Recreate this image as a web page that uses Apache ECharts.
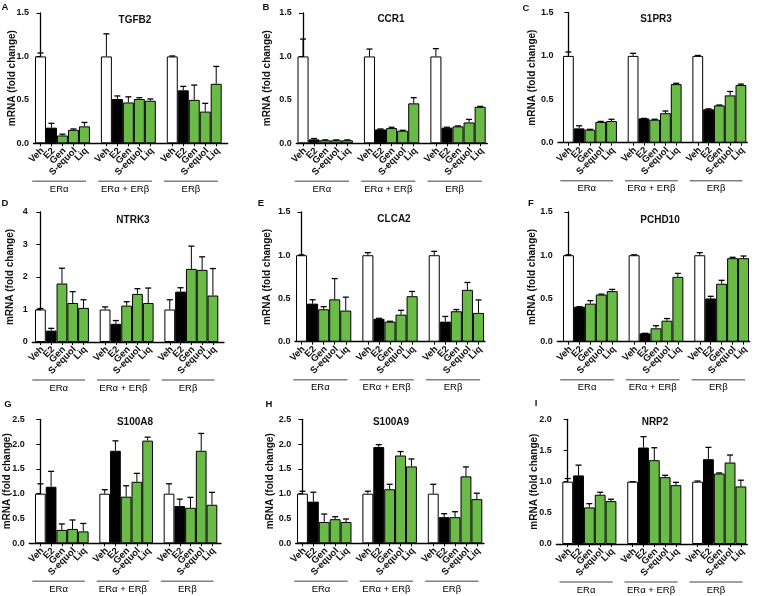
<!DOCTYPE html>
<html><head><meta charset="utf-8">
<script src="https://cdn.jsdelivr.net/npm/echarts@6/dist/echarts.min.js"></script>
<style>html,body{margin:0;padding:0;background:#fff}#c{width:762px;height:596px}</style>
</head><body><div id="c"></div>
<script>
// ---------------- data ----------------
const treatments = ['Veh', 'E2', 'Gen', 'S-equol', 'Liq'];
const groups = ['ERα', 'ERα + ERβ', 'ERβ'];
const genes = ['TGFB2', 'CCR1', 'S1PR3', 'NTRK3', 'CLCA2', 'PCHD10', 'S100A8', 'S100A9', 'NRP2'];
const panelLetters = ['A', 'B', 'C', 'D', 'E', 'F', 'G', 'H', 'I'];
const yAxisName = 'mRNA (fold change)';
const yMax = [1.5, 1.5, 1.5, 4, 1.5, 1.5, 2.5, 2.5, 2.0];
const yStep = [0.5, 0.5, 0.5, 1, 0.5, 0.5, 0.5, 0.5, 0.5];

// means, ordered: ERα (Veh,E2,Gen,S-equol,Liq), ERα+ERβ (...), ERβ (...)
const TGFB2_mean  = [1.00, 0.18, 0.09, 0.155, 0.195,  1.00, 0.51, 0.47, 0.51, 0.49,  1.00, 0.61, 0.50, 0.365, 0.685];
const TGFB2_err   = [0.04, 0.05, 0.015, 0.01, 0.045,  0.26, 0.035, 0.065, 0.015, 0.02,  0.005, 0.045, 0.17, 0.095, 0.20];
const CCR1_mean   = [1.00, 0.045, 0.035, 0.035, 0.035,  1.00, 0.16, 0.175, 0.145, 0.46,  1.00, 0.18, 0.195, 0.24, 0.42];
const CCR1_err    = [0.20, 0.01, 0.004, 0.004, 0.004,  0.085, 0.005, 0.01, 0.005, 0.065,  0.09, 0.005, 0.005, 0.035, 0.005];
const S1PR3_mean  = [1.00, 0.165, 0.15, 0.24, 0.25,  1.00, 0.28, 0.265, 0.34, 0.675,  1.00, 0.385, 0.43, 0.545, 0.665];
const S1PR3_err   = [0.045, 0.03, 0.004, 0.005, 0.02,  0.03, 0.0, 0.005, 0.025, 0.01,  0.005, 0.005, 0.004, 0.045, 0.01];
const NTRK3_mean  = [1.00, 0.35, 1.80, 1.20, 1.05,  1.00, 0.56, 1.12, 1.48, 1.20,  1.00, 1.55, 2.25, 2.22, 1.43];
const NTRK3_err   = [0.03, 0.07, 0.47, 0.35, 0.25,  0.08, 0.10, 0.12, 0.16, 0.46,  0.30, 0.12, 0.70, 0.40, 0.83];
const CLCA2_mean  = [1.00, 0.44, 0.375, 0.49, 0.36,  1.00, 0.265, 0.232, 0.313, 0.526,  1.00, 0.232, 0.352, 0.60, 0.333];
const CLCA2_err   = [0.005, 0.045, 0.03, 0.24, 0.155,  0.03, 0.005, 0.004, 0.05, 0.055,  0.045, 0.06, 0.02, 0.085, 0.15];
const PCHD10_mean = [1.00, 0.405, 0.44, 0.545, 0.585,  1.00, 0.097, 0.155, 0.243, 0.75,  1.00, 0.50, 0.67, 0.966, 0.966];
const PCHD10_err  = [0.005, 0.0, 0.035, 0.005, 0.02,  0.005, 0.0, 0.03, 0.025, 0.04,  0.03, 0.025, 0.04, 0.01, 0.025];
const S100A8_mean = [1.00, 1.14, 0.27, 0.29, 0.24,  1.00, 1.865, 0.94, 1.24, 2.07,  1.00, 0.75, 0.716, 1.865, 0.777];
const S100A8_err  = [0.20, 0.31, 0.12, 0.18, 0.16,  0.08, 0.20, 0.22, 0.17, 0.07,  0.20, 0.14, 0.21, 0.35, 0.25];
const S100A9_mean = [1.00, 0.84, 0.43, 0.486, 0.43,  1.00, 1.94, 1.09, 1.77, 1.55,  1.00, 0.527, 0.527, 1.35, 0.89];
const S100A9_err  = [0.05, 0.19, 0.16, 0.05, 0.06,  0.05, 0.05, 0.10, 0.08, 0.15,  0.19, 0.07, 0.11, 0.19, 0.12];
const NRP2_mean   = [1.00, 1.10, 0.587, 0.79, 0.688,  1.00, 1.547, 1.344, 1.072, 0.944,  1.00, 1.36, 1.13, 1.307, 0.923];
const NRP2_err    = [0.05, 0.165, 0.06, 0.04, 0.03,  0.0, 0.175, 0.20, 0.03, 0.045,  0.01, 0.19, 0.01, 0.12, 0.10];

const means = [TGFB2_mean, CCR1_mean, S1PR3_mean, NTRK3_mean, CLCA2_mean, PCHD10_mean, S100A8_mean, S100A9_mean, NRP2_mean];
const errs  = [TGFB2_err, CCR1_err, S1PR3_err, NTRK3_err, CLCA2_err, PCHD10_err, S100A8_err, S100A9_err, NRP2_err];

// ---------------- layout / style ----------------
// [yAxisX, firstBarLeft, lastBarRight, xAxisEnd, plotTop, baselineY]
const layout = [
  [33.5, 35.0, 221.7, 227.7, 13, 143.3],
  [296.3, 297.5, 485.7, 487.3, 13, 143.3],
  [558.0, 563.0, 746.3, 747.3, 12.5, 142.7],
  [32.3, 35.0, 218.3, 224.0, 212, 342],
  [295.0, 296.0, 484.0, 485.0, 212, 341.7],
  [557.3, 563.0, 749.0, 749.7, 212, 341.7],
  [29.3, 35.0, 217.3, 221.0, 419.3, 543.3],
  [295.7, 297.0, 482.3, 484.0, 419.3, 543.3],
  [556.3, 562.3, 746.3, 747.3, 419.3, 544.0]
];
const titlePos  = [[135, 20], [391, 19], [656, 19], [133, 220], [394, 219], [660, 220], [135, 422], [391, 422], [655, 422]];
const letterPos = [[5, 7], [266, 7], [526, 8], [5, 203], [261, 203], [531, 203], [8, 404], [269, 404], [536, 403]];
const nameX     = [12, 267, 532, 10, 267, 532, 7, 270, 534];

const FONT = '"Liberation Sans", Arial, Helvetica, sans-serif';
const GREEN = '#6aba47';
const fills = ['#ffffff', '#000000', GREEN, GREEN, GREEN];

const xPos = k => Math.floor(k / 5) * 6 + (k % 5);
const tickVals = [];
groups.forEach((_, gi) => treatments.forEach((_, ti) => tickVals.push(gi * 6 + ti)));

const grid = [], xAxis = [], yAxis = [], series = [], graphic = [];

genes.forEach((gene, i) => {
  const [ax, bl, br, ae, top, base] = layout[i];
  const unit = (br - bl) / 17;
  const xmin = -(0.5 + (bl - ax) / unit);
  const xmax = 16.5 + (ae - br) / unit;
  grid.push({ left: ax, top: top, width: ae - ax, height: base - top, containLabel: false, outerBoundsMode: 'none' });
  xAxis.push({
    type: 'value', gridIndex: i, min: xmin, max: xmax,
    splitLine: { show: false },
    axisLine: { show: true, onZero: false, lineStyle: { color: '#000', width: 1.3 } },
    axisTick: { show: true, customValues: tickVals, length: 3, lineStyle: { color: '#000', width: 1 } },
    axisLabel: { show: false }
  });
  const dec = yStep[i] < 1 ? 1 : 0;
  yAxis.push({
    type: 'value', gridIndex: i, min: 0, max: yMax[i], interval: yStep[i],
    splitLine: { show: false },
    axisLine: { show: true, lineStyle: { color: '#000', width: 1.3 } },
    axisTick: { show: true, length: 4, lineStyle: { color: '#000', width: 1 } },
    axisLabel: { formatter: v => v.toFixed(dec), margin: 4.5, fontSize: 9, fontWeight: 'bold', color: '#111', fontFamily: FONT,
                 showMinLabel: true, showMaxLabel: true, hideOverlap: false },
    name: yAxisName, nameLocation: 'middle', nameGap: ax - nameX[i] - 5, nameMoveOverlap: false,
    nameTextStyle: { fontSize: 10, fontWeight: 'bold', color: '#111', fontFamily: FONT }
  });
  series.push({
    type: 'bar', xAxisIndex: i, yAxisIndex: i, barWidth: unit, animation: false, silent: true,
    itemStyle: { borderColor: '#000', borderWidth: 1 },
    data: means[i].map((v, k) => ({ value: [xPos(k), v], itemStyle: { color: fills[k % 5] } }))
  });
  // error bars (upper only)
  series.push({
    type: 'custom', xAxisIndex: i, yAxisIndex: i, animation: false, silent: true, z: 5,
    encode: { x: 0, y: [1, 2] },
    data: means[i].map((v, k) => [xPos(k), v, v + errs[i][k]]),
    renderItem: (params, api) => {
      const x = api.value(0);
      const p0 = api.coord([x, api.value(1)]);
      const p1 = api.coord([x, api.value(2)]);
      const hw = 3;
      return {
        type: 'group', children: [
          { type: 'line', shape: { x1: p0[0], y1: p0[1], x2: p1[0], y2: p1[1] }, style: { stroke: '#000', lineWidth: 1 } },
          { type: 'line', shape: { x1: p1[0] - hw, y1: p1[1], x2: p1[0] + hw, y2: p1[1] }, style: { stroke: '#000', lineWidth: 1.3 } }
        ]
      };
    }
  });
  // rotated treatment tick labels
  series.push({
    type: 'custom', xAxisIndex: i, yAxisIndex: i, animation: false, silent: true, clip: false,
    encode: { x: 0, y: 1 },
    data: tickVals.map(v => [v, 0]),
    renderItem: (params, api) => {
      const p = api.coord([api.value(0), 0]);
      return {
        type: 'text', x: p[0] + 2, y: p[1] + 6, rotation: Math.PI / 4,
        style: { text: treatments[params.dataIndex % 5], fontSize: 9.5, fontWeight: 'bold', fontFamily: FONT, fill: '#111',
                 align: 'right', textAlign: 'right', verticalAlign: 'middle', textVerticalAlign: 'middle' }
      };
    }
  });
  // group brackets
  series.push({
    type: 'custom', xAxisIndex: i, yAxisIndex: i, animation: false, silent: true, clip: false,
    encode: { x: [0, 1], y: 2 },
    data: groups.map((name, gi) => [gi * 6, gi * 6 + 4, 0]),
    renderItem: (params, api) => {
      const s = api.coord([api.value(0) - 0.75, 0]);
      const e = api.coord([api.value(1) + 0.15, 0]);
      const y = s[1] + 38;
      return {
        type: 'group', children: [
          { type: 'line', shape: { x1: s[0], y1: y, x2: e[0], y2: y }, style: { stroke: '#808080', lineWidth: 1.5 } },
          { type: 'text', x: (s[0] + e[0]) / 2, y: y + 8,
            style: { text: groups[params.dataIndex], fontSize: 9.5, fontFamily: FONT, fill: '#000',
                     align: 'center', textAlign: 'center', verticalAlign: 'middle', textVerticalAlign: 'middle' } }
        ]
      };
    }
  });
  graphic.push({ type: 'text', x: titlePos[i][0], y: titlePos[i][1], silent: true,
    style: { text: gene, fontSize: 10, fontWeight: 'bold', fontFamily: FONT, fill: '#111',
             align: 'center', textAlign: 'center', verticalAlign: 'middle', textVerticalAlign: 'middle' } });
  graphic.push({ type: 'text', x: letterPos[i][0], y: letterPos[i][1], silent: true,
    style: { text: panelLetters[i], fontSize: 9.5, fontWeight: 'bold', fontFamily: FONT, fill: '#111',
             align: 'center', textAlign: 'center', verticalAlign: 'middle', textVerticalAlign: 'middle' } });
});

const chart = echarts.init(document.getElementById('c'), null, { renderer: 'canvas' });
chart.setOption({
  animation: false,
  backgroundColor: '#fff',
  textStyle: { fontFamily: FONT },
  grid, xAxis, yAxis, series, graphic
});
</script>
</body></html>
